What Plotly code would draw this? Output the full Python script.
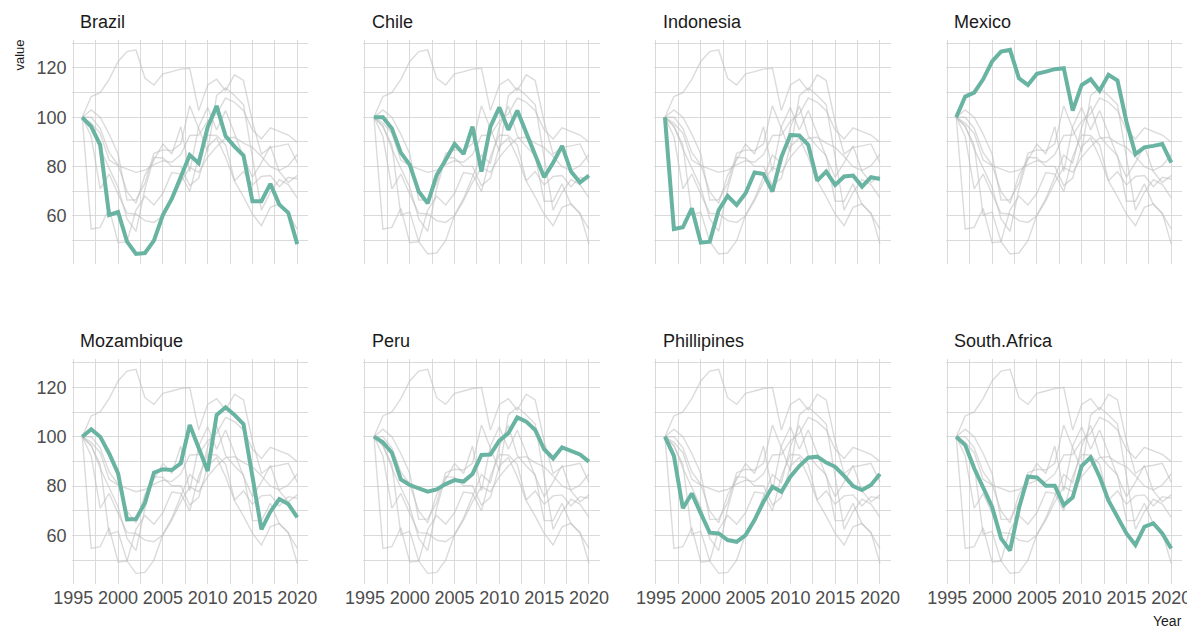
import plotly.graph_objects as go

years = list(range(1996, 2021))

brazil = [100, 96.2, 88.8, 60.4, 61.6, 49.6, 44.6, 45, 50, 60.4, 67, 76, 84.7, 81.4, 96, 104.6,
          92.4, 88.1, 84.5, 66, 66, 73, 64.6, 61.3, 48.6]
chile = [100, 100, 95.5, 85.7, 80.7, 69.9, 65.1, 76.6, 82.7, 89.2, 85.1, 96.2, 78, 96.2, 104, 94.9,
         102.7, 93.5, 84, 75.7, 81.6, 88.4, 78, 73.6, 76.4]
indonesia = [100, 54.7, 55.4, 63.1, 49.2, 49.6, 62.4, 68.1, 64.5, 69.2, 77.6, 77, 69.9, 84, 92.8, 92.6,
             88.8, 74.3, 78, 72.6, 76, 76.4, 71.9, 75.7, 75]
mexico = [100, 108.4, 110, 115.4, 122.6, 126.6, 127.3, 115.8, 113.1, 117.6, 118.5, 119.5, 119.9, 102.7,
          113.1, 115.4, 110.8, 117.2, 114.9, 98.2, 85.1, 87.8, 88.4, 89.2, 81.6]
mozambique = [100, 103, 100, 93.2, 85.1, 66.5, 66.6, 73.2, 85.4, 86.8, 86.5, 89.2, 104.7, 95.3, 86.1,
              108.8, 111.9, 108.8, 105.1, 83.8, 62.4, 69.6, 74.7, 72.7, 67.3]
peru = [100, 97.7, 93.5, 82.7, 80.4, 79.1, 77.7, 78.6, 80.8, 82.4, 81.8, 84.9, 92.6, 92.8, 98.4, 101.4,
        107.8, 106.1, 102.7, 94.9, 91.2, 95.7, 94.2, 92.8, 89.9]
phillipines = [100, 92.2, 71, 77, 68.9, 61.1, 60.8, 58.1, 57.4, 60.1, 66.2, 73.6, 79.7, 77.7, 83.8, 88.1,
               91.5, 91.9, 89.5, 87.8, 84.1, 80, 78.4, 80.4, 84.9]
south_africa = [100, 96.6, 87.2, 79.1, 71.6, 58.8, 53.8, 71, 83.8, 83.5, 80.1, 80.1, 72.3, 75.4, 88.1,
                91.6, 83.8, 74.1, 67.8, 60.8, 56.1, 63.5, 64.9, 60.8, 54.7]

countries = ["Brazil", "Chile", "Indonesia", "Mexico", "Mozambique", "Peru", "Phillipines", "South.Africa"]
series = [brazil, chile, indonesia, mexico, mozambique, peru, phillipines, south_africa]

x_ticks = [1995, 2000, 2005, 2010, 2015, 2020]
y_ticks = [60, 80, 100, 120]

# the page body has an 8px margin, so the figure is placed at (8, 8)
OFF = 8
W, H = 1195 - OFF, 630 - OFF
col_left = [71.5 - OFF, 363.2 - OFF, 654.2 - OFF, 945.5 - OFF]
panel_w = 236.5
row_top = [39.8 - OFF, 359.2 - OFF]
panel_h = 224.3

HIGHLIGHT = "#69b3a2"
GREY = "rgba(190,190,190,0.55)"
GRID = "#dadada"
TICKFONT = dict(family="Liberation Sans, Arial, sans-serif", size=18, color="#4d4d4d")

fig = go.Figure()
layout = {}
annotations = []

for i, (name, vals) in enumerate(zip(countries, series)):
    r, c = divmod(i, 4)
    idx = i + 1
    xa = "x" if idx == 1 else f"x{idx}"
    ya = "y" if idx == 1 else f"y{idx}"
    for other in series:
        fig.add_trace(go.Scatter(x=years, y=other, mode="lines", xaxis=xa, yaxis=ya,
                                 line=dict(color=GREY, width=1.4), hoverinfo="skip",
                                 showlegend=False))
    fig.add_trace(go.Scatter(x=years, y=vals, mode="lines", xaxis=xa, yaxis=ya,
                             line=dict(color=HIGHLIGHT, width=4), name=name,
                             showlegend=False))
    x0 = col_left[c] / W
    x1 = (col_left[c] + panel_w) / W
    y1 = 1 - row_top[r] / H
    y0 = 1 - (row_top[r] + panel_h) / H
    xkey = "xaxis" if idx == 1 else f"xaxis{idx}"
    ykey = "yaxis" if idx == 1 else f"yaxis{idx}"
    layout[xkey] = dict(domain=[x0, x1], anchor=ya, range=[1994.8, 2021.2],
                        tickvals=x_ticks, ticktext=[str(v) for v in x_ticks],
                        showticklabels=(r == 1), tickfont=TICKFONT, tickangle=0,
                        showgrid=True, gridcolor=GRID, gridwidth=1,
                        minor=dict(dtick=2.5, tick0=1995, showgrid=True, gridcolor=GRID, gridwidth=1),
                        zeroline=False, showline=False, ticks="", automargin=False,
                        ticklabelstandoff=1)
    layout[ykey] = dict(domain=[y0, y1], anchor=xa, range=[40.5, 131.4],
                        tickvals=y_ticks, ticktext=[str(v) for v in y_ticks],
                        showticklabels=(c == 0), tickfont=TICKFONT,
                        showgrid=True, gridcolor=GRID, gridwidth=1,
                        minor=dict(dtick=10, tick0=0, showgrid=True, gridcolor=GRID, gridwidth=1),
                        zeroline=False, showline=False, ticks="", automargin=False,
                        ticklabelstandoff=4)
    title_y = [22 - OFF, 341 - OFF][r]
    annotations.append(dict(text=name, x=(col_left[c] + 6.5) / W, y=1 - title_y / H,
                            xref="paper", yref="paper", xanchor="left", yanchor="middle",
                            showarrow=False,
                            font=dict(family="Liberation Sans, Arial, sans-serif", size=18,
                                      color="#1a1a1a")))

annotations.append(dict(text="value", x=(19 - OFF) / W, y=1 - (38 - OFF) / H, xref="paper",
                        yref="paper", xanchor="center", yanchor="top", textangle=-90,
                        showarrow=False,
                        font=dict(family="Liberation Sans, Arial, sans-serif", size=13,
                                  color="#1a1a1a")))
annotations.append(dict(text="Year", x=(1184 - OFF) / W, y=1 - (621 - OFF) / H, xref="paper",
                        yref="paper", xanchor="right", yanchor="middle", showarrow=False,
                        font=dict(family="Liberation Sans, Arial, sans-serif", size=14,
                                  color="#1a1a1a")))

fig.update_layout(**layout)
fig.update_layout(width=W, height=H, margin=dict(l=0, r=0, t=0, b=0),
                  paper_bgcolor="white", plot_bgcolor="white",
                  annotations=annotations, showlegend=False)

fig.write_html("out.html")
